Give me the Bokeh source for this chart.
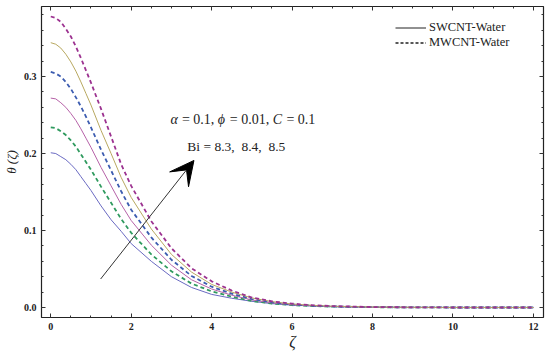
import numpy as np
from bokeh.plotting import figure
from bokeh.models import (Range1d, FixedTicker, LinearAxis, Label, Arrow, VeeHead,
                          Legend, LegendItem, CustomLabelingPolicy)
from bokeh.embed import file_html
from bokeh.resources import INLINE

# ---------------- data ----------------
zeta = [0, 0.125, 0.25, 0.375, 0.5, 0.625, 0.75, 0.875, 1, 1.25, 1.5, 1.75, 2,
        2.5, 3, 3.5, 4, 4.5, 5, 5.5, 6, 6.5, 7, 8, 9, 10, 11, 12]

sw_bi83 = [0.201, 0.200, 0.196, 0.192, 0.186, 0.179, 0.170, 0.161, 0.152, 0.132,
           0.114, 0.099, 0.083, 0.060, 0.040, 0.026, 0.017, 0.012, 0.008, 0.005,
           0.003, 0.002, 0.001, 0.0004, 0.0001, 0, 0, 0]
mw_bi83 = [0.234, 0.233, 0.229, 0.224, 0.217, 0.209, 0.199, 0.189, 0.179, 0.157,
           0.136, 0.115, 0.097, 0.069, 0.047, 0.031, 0.021, 0.014, 0.0084, 0.0051,
           0.003, 0.0019, 0.0011, 0.0004, 0.0001, 0, 0, 0]
sw_bi84 = [0.272, 0.271, 0.266, 0.260, 0.252, 0.243, 0.232, 0.220, 0.208, 0.182,
           0.158, 0.134, 0.113, 0.081, 0.055, 0.036, 0.024, 0.016, 0.0098, 0.006,
           0.0035, 0.0022, 0.0013, 0.0004, 0.0001, 0, 0, 0]
mw_bi84 = [0.306, 0.304, 0.300, 0.293, 0.284, 0.273, 0.261, 0.248, 0.234, 0.205,
           0.178, 0.151, 0.127, 0.091, 0.062, 0.041, 0.027, 0.018, 0.011, 0.0067,
           0.004, 0.0024, 0.0014, 0.0005, 0.0002, 0, 0, 0]
sw_bi85 = [0.344, 0.342, 0.337, 0.329, 0.319, 0.307, 0.293, 0.278, 0.263, 0.230,
           0.200, 0.169, 0.143, 0.102, 0.069, 0.046, 0.030, 0.020, 0.0124, 0.0076,
           0.0045, 0.0028, 0.0016, 0.0006, 0.0002, 0, 0, 0]
mw_bi85 = [0.378, 0.376, 0.371, 0.362, 0.352, 0.339, 0.324, 0.308, 0.292, 0.258,
           0.222, 0.186, 0.158, 0.112, 0.077, 0.051, 0.034, 0.022, 0.013, 0.008,
           0.005, 0.003, 0.0018, 0.0006, 0.0002, 0, 0, 0]

x_ticks = [0, 2, 4, 6, 8, 10, 12]
y_ticks = [0.0, 0.1, 0.2, 0.3]
y_tick_labels = ["0.0", "0.1", "0.2", "0.3"]
legend_labels = ["SWCNT-Water", "MWCNT-Water"]

# ---------------- figure ----------------
p = figure(width=546, height=352, output_backend="svg", toolbar_location=None,
           x_range=Range1d(-0.23, 12.25), y_range=Range1d(-0.013, 0.391),
           min_border_left=41, min_border_right=3, min_border_top=6,
           min_border_bottom=33, x_axis_type=None, y_axis_type=None)
p.grid.visible = False
p.outline_line_color = "#222222"
p.outline_line_width = 1.2
p.background_fill_color = "white"
p.border_fill_color = "white"

x_minor = list(np.arange(0.0, 12.01, 0.5))
y_minor = list(np.round(np.arange(0.0, 0.3801, 0.02), 3))
xt = FixedTicker(ticks=x_ticks, minor_ticks=x_minor)
yt = FixedTicker(ticks=y_ticks, minor_ticks=y_minor)

serif = "Liberation Serif"

def style(ax, labels=True):
    ax.axis_line_color = None
    ax.major_tick_in = 4
    ax.major_tick_out = 0
    ax.minor_tick_in = 2
    ax.minor_tick_out = 0
    ax.major_tick_line_color = "#333333"
    ax.minor_tick_line_color = "#333333"
    if labels:
        ax.major_label_text_font = serif
        ax.major_label_text_font_style = "bold"
        ax.major_label_text_font_size = "10px"
        ax.major_label_text_color = "#222222"
        ax.major_label_standoff = 5
        ax.axis_label_text_font = serif
        ax.axis_label_text_font_style = "italic"
        ax.axis_label_text_color = "#222222"
    else:
        ax.major_label_policy = CustomLabelingPolicy(
            code="for (const i of indices) { if (false) yield i }")
        ax.major_label_text_font_size = "0px"
        ax.major_label_standoff = 0

bx = LinearAxis(ticker=xt, axis_label="ζ")
style(bx)
bx.axis_label_text_font_size = "16px"
bx.axis_label_standoff = 0
p.add_layout(bx, "below")

lx = LinearAxis(ticker=yt, axis_label="θ (ζ)",
                major_label_overrides=dict(zip(y_ticks, y_tick_labels)))
style(lx)
lx.axis_label_text_font_size = "13px"
lx.axis_label_standoff = 2
p.add_layout(lx, "left")

tx = LinearAxis(ticker=xt)
style(tx, labels=False)
p.add_layout(tx, "above")
rx = LinearAxis(ticker=yt)
style(rx, labels=False)
p.add_layout(rx, "right")

# ---------------- curves ----------------
series = [
    (sw_bi83, "#6a6ac2", "solid", 1.0),
    (mw_bi83, "#2f9a5e", "4 3", 1.8),
    (sw_bi84, "#b662a8", "solid", 1.0),
    (mw_bi84, "#3c5cb0", "4 3", 1.8),
    (sw_bi85, "#b8a860", "solid", 1.0),
    (mw_bi85, "#9c3290", "4 3", 1.8),
]
for ys, c, d, w in series:
    p.line(zeta, ys, line_color=c, line_dash=d, line_width=w)

# legend (black samples)
r_sw = p.line([np.nan], [np.nan], line_color="#222222", line_width=1.0)
r_mw = p.line([np.nan], [np.nan], line_color="#222222", line_width=1.5,
              line_dash="3 2")
leg = Legend(items=[LegendItem(label=legend_labels[0], renderers=[r_sw]),
                    LegendItem(label=legend_labels[1], renderers=[r_mw])],
             location=(354, 267), margin=0, padding=0, spacing=0,
             glyph_width=31, glyph_height=15, label_height=15, label_standoff=3,
             border_line_alpha=0, background_fill_alpha=0,
             label_text_font=serif, label_text_font_size="12.5px",
             label_text_color="#222222")
p.add_layout(leg, "center")

# arrow
p.add_layout(Arrow(x_start=1.24, y_start=0.037, x_end=3.56, y_end=0.191,
                   line_color="#333333", line_width=1.0,
                   end=VeeHead(size=24, fill_color="black", line_color="black")))

# annotation text
def lab(x, y, t, style="normal", fs="14px"):
    p.add_layout(Label(x=x, y=y, text=t, text_font=serif,
                       text_font_size=fs, text_font_style=style,
                       text_color="#222222", text_baseline="alphabetic",
                       text_align="left"))

yb = 0.2442
lab(2.98, yb, "α", "italic")
lab(3.26, yb, "= 0.1,")
lab(4.15, yb, "ϕ", "italic")
lab(4.45, yb, "= 0.01,")
lab(5.52, yb, "C", "italic")
lab(5.86, yb, "= 0.1")
lab(3.396, 0.209, "Bi = 8.3,\u00a0 8.4,\u00a0 8.5", fs="13.5px")

open("out.html", "w").write(file_html(p, INLINE))
